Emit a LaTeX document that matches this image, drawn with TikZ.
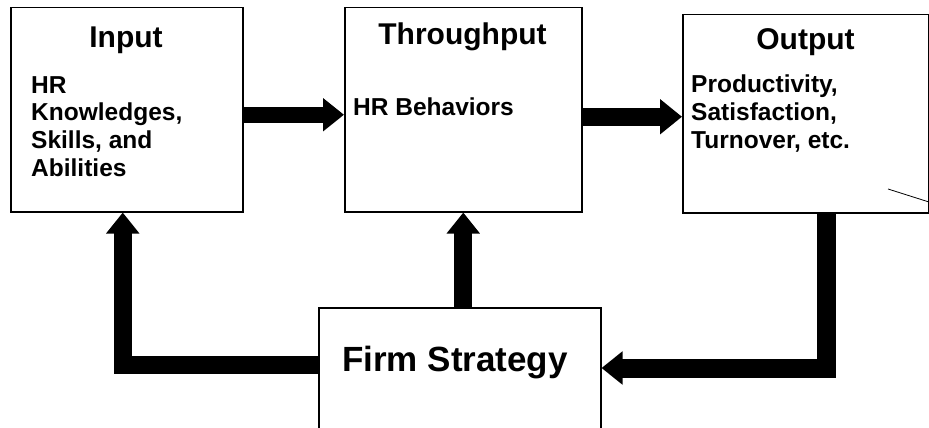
\documentclass[tikz,border=0pt]{standalone}
\usepackage{fontspec}
\setmainfont{Liberation Sans}
\usetikzlibrary{arrows.meta}
\tikzset{
  box/.style={draw=black, line width=1.5pt, fill=white, inner sep=0pt, anchor=north west},
  title/.style={inner sep=0pt, anchor=base, font=\bfseries\fontsize{30}{36}\selectfont},
  body/.style={inner sep=0pt, anchor=north west, align=left, font=\bfseries\fontsize{24.5}{27.7}\selectfont},
  bigarrow/.style={draw=black, line width=18pt, line join=miter,
    -{Triangle[width=32pt,length=21pt]}},
}
\begin{document}
\begin{tikzpicture}[x=1pt,y=-1pt]
\clip (0,0) rectangle (929,428);
\fill[white] (0,0) rectangle (929,428);
% boxes
\node[box, minimum width=232pt, minimum height=204pt] (in) at (10,7) {};
\node[box, minimum width=237pt, minimum height=204pt] (thr) at (344,7) {};
\node[box, minimum width=246pt, minimum height=198pt] (out) at (682,14) {};
\node[box, minimum width=282pt, minimum height=140pt] (firm) at (318,307) {};
% texts
\node[title] (tin) at (126,48) {Input};
\node[body] (bin) at (31,76) {HR\\Knowledges,\\Skills, and\\Abilities};
\node[title] (tthr) at (462.5,45) {Throughput};
\node[body] (bthr) at (353,98) {HR Behaviors};
\node[title] (tout) at (805.5,50) {Output};
\node[body] (bout) at (691,75) {Productivity,\\Satisfaction,\\Turnover, etc.};
\node[inner sep=0pt, anchor=base, font=\bfseries\fontsize{35}{42}\selectfont] (tfirm) at (455,371) {Firm Strategy};
% stray mark
\draw[line width=0.8pt] (888,189) -- (929,202);
% arrows
\draw[bigarrow, line width=16pt] ([yshift=-5pt]in.east) -- ([yshift=-5pt]thr.west);
\draw[bigarrow, line width=18pt, -{Triangle[width=34pt,length=22pt]}] ([yshift=-7pt]thr.east) -- ([yshift=-3pt]out.west);
\draw[bigarrow] (firm.north -| thr.south) -- (thr.south);
\draw[bigarrow] ([yshift=-58pt]firm.north west) -| ([xshift=-4pt]in.south);
\draw[bigarrow, line width=19pt] ([xshift=21pt]out.south) |- ([yshift=-61pt]firm.north east);
\end{tikzpicture}
\end{document}
